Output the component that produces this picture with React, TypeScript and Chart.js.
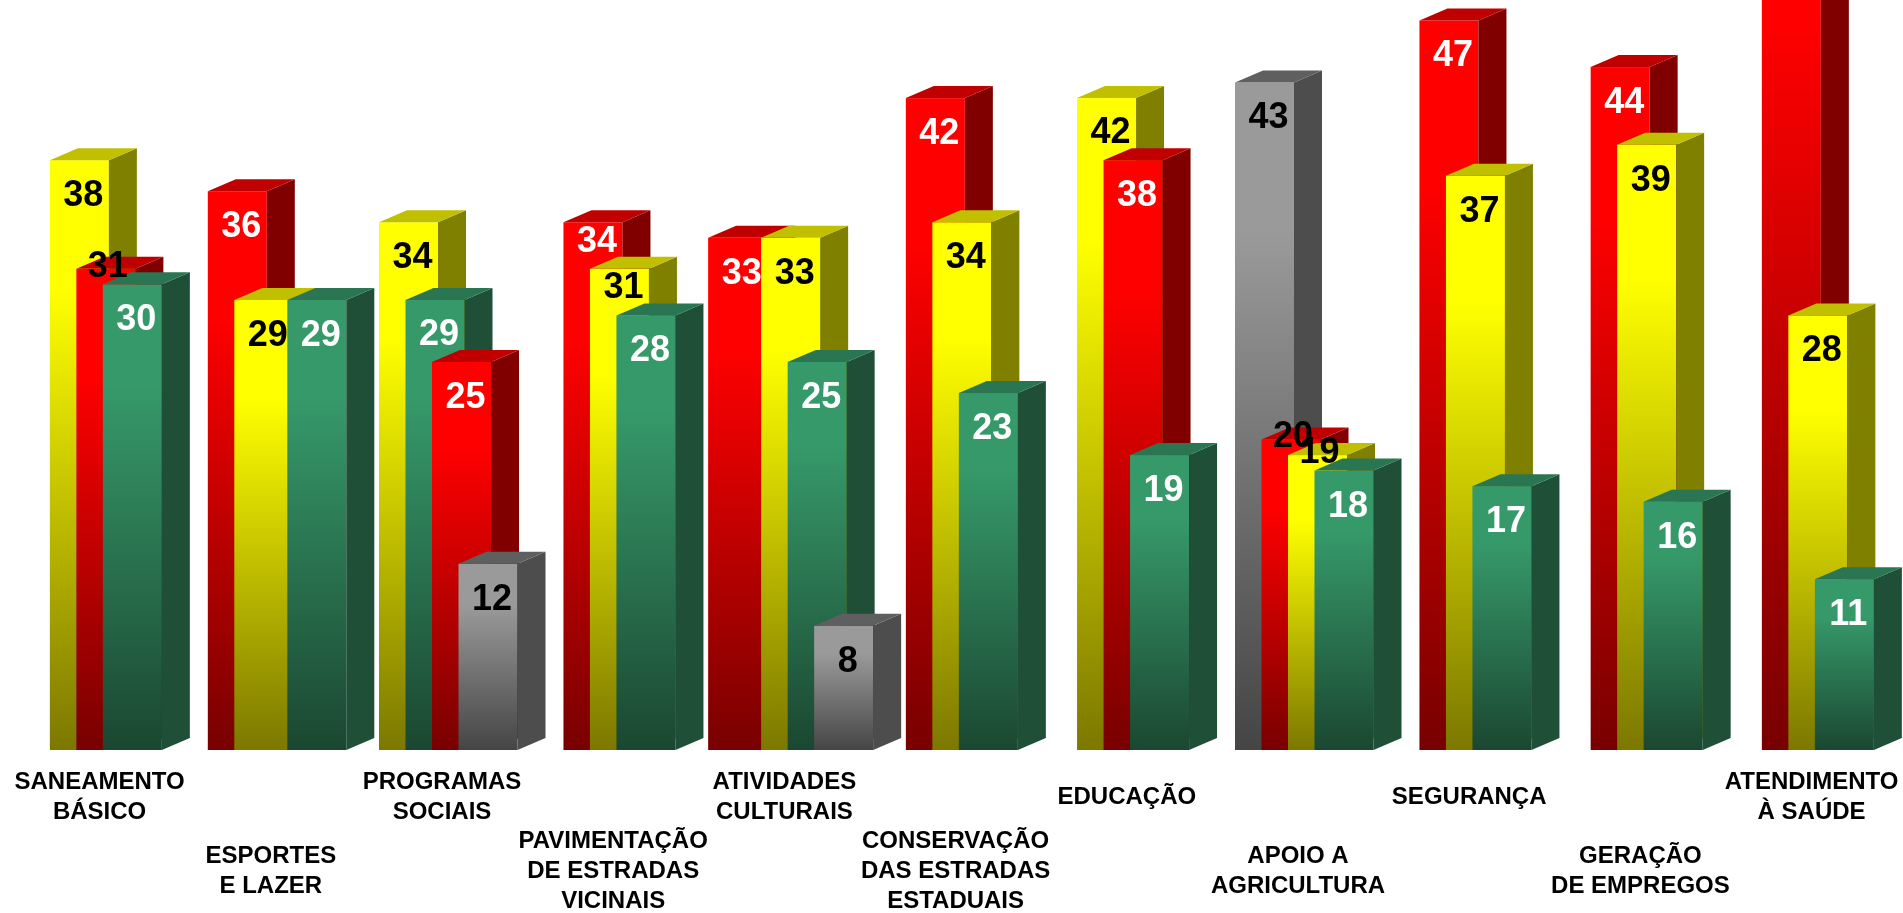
import React, { useEffect, useRef } from 'react';
import { Chart, registerables } from 'chart.js';

Chart.register(...registerables);

// ---------------- DATA ----------------
const categories = [
  'SANEAMENTO BÁSICO',
  'ESPORTES E LAZER',
  'PROGRAMAS SOCIAIS',
  'PAVIMENTAÇÃO DE ESTRADAS VICINAIS',
  'ATIVIDADES CULTURAIS',
  'CONSERVAÇÃO DAS ESTRADAS ESTADUAIS',
  'EDUCAÇÃO',
  'APOIO A AGRICULTURA',
  'SEGURANÇA',
  'GERAÇÃO DE EMPREGOS',
  'ATENDIMENTO À SAÚDE',
];

const categoryLines: string[][] = [
  ['SANEAMENTO', 'BÁSICO'],
  ['ESPORTES', 'E LAZER'],
  ['PROGRAMAS', 'SOCIAIS'],
  ['PAVIMENTAÇÃO', 'DE ESTRADAS', 'VICINAIS'],
  ['ATIVIDADES', 'CULTURAIS'],
  ['CONSERVAÇÃO', 'DAS ESTRADAS', 'ESTADUAIS'],
  ['EDUCAÇÃO'],
  ['APOIO A', 'AGRICULTURA'],
  ['SEGURANÇA'],
  ['GERAÇÃO', 'DE EMPREGOS'],
  ['ATENDIMENTO', 'À SAÚDE'],
];

const redValues: (number | null)[] = [31, 36, 25, 34, 33, 42, 38, 20, 47, 44, 60];
const yellowValues: (number | null)[] = [38, 29, 34, 31, 33, 34, 42, 19, 37, 39, 28];
const greenValues: (number | null)[] = [30, 29, 29, 28, 25, 23, 19, 18, 17, 16, 11];
const grayValues: (number | null)[] = [null, null, 12, null, 8, null, null, 43, null, null, null];

// ---------------- STYLE ----------------
const FONT = '"Liberation Sans", Arial, Helvetica, sans-serif';

const PALETTE: Record<string, { top: string; bottom: string; side: string; cap: string; text: string }> = {
  red: { top: '#FF0000', bottom: '#780000', side: '#800000', cap: '#C00000', text: '#FFFFFF' },
  yellow: { top: '#FFFF00', bottom: '#7C7800', side: '#808000', cap: '#C0C000', text: '#000000' },
  green: { top: '#36996A', bottom: '#1B4731', side: '#1F4F37', cap: '#2A7652', text: '#FFFFFF' },
  gray: { top: '#9A9A9A', bottom: '#454545', side: '#4D4D4D', cap: '#5F5F5F', text: '#000000' },
};

const SLOT = 26.5; // spacing between overlapping bars
const FRONT_W = 59; // front face width
const DEPTH_X = 28;
const DEPTH_Y = 12;

const series = [
  { key: 'red', values: redValues },
  { key: 'yellow', values: yellowValues },
  { key: 'green', values: greenValues },
  { key: 'gray', values: grayValues },
];

function buildDatasets() {
  const perCat = categories.map((_, i) => {
    const items = series
      .map((s, order) => ({ key: s.key as string | null, value: s.values[i] as number | null, order }))
      .filter((it) => it.value != null) as { key: string | null; value: number; order: number }[];
    items.sort((a, b) => b.value - a.value || a.order - b.order);
    const slots: { key: string | null; value: number }[] = [];
    items.forEach((it, j) => {
      // tied values are separated by an empty slot
      if (j > 0 && it.value === items[j - 1].value) slots.push({ key: null, value: 0 });
      slots.push({ key: it.key, value: it.value });
    });
    return slots;
  });
  const maxSlots = Math.max(...perCat.map((s) => s.length));
  const datasets: any[] = [];
  for (let k = 0; k < maxSlots; k++) {
    datasets.push({
      label: 'slot' + k,
      data: perCat.map((s) => (s[k] ? s[k].value : null)),
      seriesKeys: perCat.map((s) => (s[k] ? s[k].key : null)),
      backgroundColor: 'rgba(0,0,0,0)',
      borderWidth: 0,
      skipNull: true,
      barThickness: SLOT,
    });
  }
  return datasets;
}

const bars3d = {
  id: 'bars3d',
  afterDatasetsDraw(chart: any) {
    const ctx: CanvasRenderingContext2D = chart.ctx;
    const n = chart.data.labels.length;
    const labels: { text: string; x: number; y: number; color: string }[] = [];
    ctx.save();
    for (let i = 0; i < n; i++) {
      const items: any[] = [];
      chart.data.datasets.forEach((ds: any, k: number) => {
        const v = ds.data[i];
        if (v == null) return;
        const key = ds.seriesKeys[i];
        if (key == null) {
          items.push({ gap: true });
          return;
        }
        const el = chart.getDatasetMeta(k).data[i];
        const p = el.getProps(['x', 'y', 'base', 'width'], true);
        items.push({ key, v, p });
      });
      items.forEach((it, j) => {
        if (it.gap) return;
        const pal = PALETTE[it.key];
        const left = it.p.x - it.p.width / 2;
        const top = it.p.y;
        const bottom = it.p.base;
        const right = left + FRONT_W;
        // front face
        const g = ctx.createLinearGradient(0, top, 0, bottom);
        g.addColorStop(0, pal.top);
        g.addColorStop(0.22, pal.top);
        g.addColorStop(1, pal.bottom);
        ctx.fillStyle = g;
        ctx.fillRect(left, top, FRONT_W, bottom - top);
        // side face
        ctx.fillStyle = pal.side;
        ctx.beginPath();
        ctx.moveTo(right, top);
        ctx.lineTo(right + DEPTH_X, top - DEPTH_Y);
        ctx.lineTo(right + DEPTH_X, bottom - DEPTH_Y);
        ctx.lineTo(right, bottom);
        ctx.closePath();
        ctx.fill();
        // top face
        ctx.fillStyle = pal.cap;
        ctx.beginPath();
        ctx.moveTo(left, top);
        ctx.lineTo(left + DEPTH_X, top - DEPTH_Y);
        ctx.lineTo(right + DEPTH_X, top - DEPTH_Y);
        ctx.lineTo(right, top);
        ctx.closePath();
        ctx.fill();
        // label placement
        const next = items[j + 1];
        const cx = left + FRONT_W / 2 + 4;
        if (next && !next.gap && next.v >= it.v - 1) {
          // label would be covered by the next bar: put it on the top edge, in black
          labels.push({ text: String(it.v), x: cx - 2, y: top - 2, color: '#000000' });
        } else {
          let y = top + 36;
          if (next && !next.gap) y = Math.min(y, next.p.y - DEPTH_Y - 15);
          labels.push({ text: String(it.v), x: cx, y, color: pal.text });
        }
      });
    }
    ctx.font = 'bold 36px ' + FONT;
    ctx.textAlign = 'center';
    ctx.textBaseline = 'middle';
    labels.forEach((l) => {
      ctx.fillStyle = l.color;
      ctx.fillText(l.text, l.x, l.y);
    });
    ctx.restore();
  },
};

const tickFont = { family: FONT, size: 24, weight: 'bold' as const, lineHeight: 1.25 };

function axisOptions(row: number, padding: number, weight: number, boxHeight: number) {
  return {
    type: 'category' as const,
    position: 'bottom' as const,
    offset: false,
    weight,
    grid: { display: false, drawTicks: false },
    border: { display: false },
    ticks: {
      autoSkip: false,
      maxRotation: 0,
      minRotation: 0,
      padding,
      crossAlign: 'center' as const,
      labelOffset: 10,
      color: '#000000',
      font: tickFont,
      callback: (_v: any, i: number) => (i % 2 === row ? categoryLines[i] : ''),
    },
    afterFit: (s: any) => {
      s.paddingLeft = 0;
      s.paddingRight = 0;
      s.height = boxHeight;
    },
  };
}

export default function App() {
  const ref = useRef<HTMLCanvasElement>(null);
  useEffect(() => {
    const chart = new Chart(ref.current as HTMLCanvasElement, {
      type: 'bar',
      data: { labels: categories, datasets: buildDatasets() },
      options: {
        responsive: false,
        animation: false,
        layout: { padding: { left: 89.6, right: 101.4, top: 0, bottom: 0 } },
        plugins: { legend: { display: false }, tooltip: { enabled: false } },
        scales: {
          x: axisOptions(0, 32, 0, 76) as any,
          x2: axisOptions(1, 15.5, 1, 87) as any,
          y: { display: false, min: 0, max: 48.32 },
        },
      },
      plugins: [bars3d],
    });
    return () => chart.destroy();
  }, []);
  return (
    <div style={{ position: 'fixed', left: 0, top: 0, width: 1903, height: 913, background: '#ffffff' }}>
      <canvas ref={ref} width={1903} height={913} style={{ display: 'block' }} />
    </div>
  );
}
